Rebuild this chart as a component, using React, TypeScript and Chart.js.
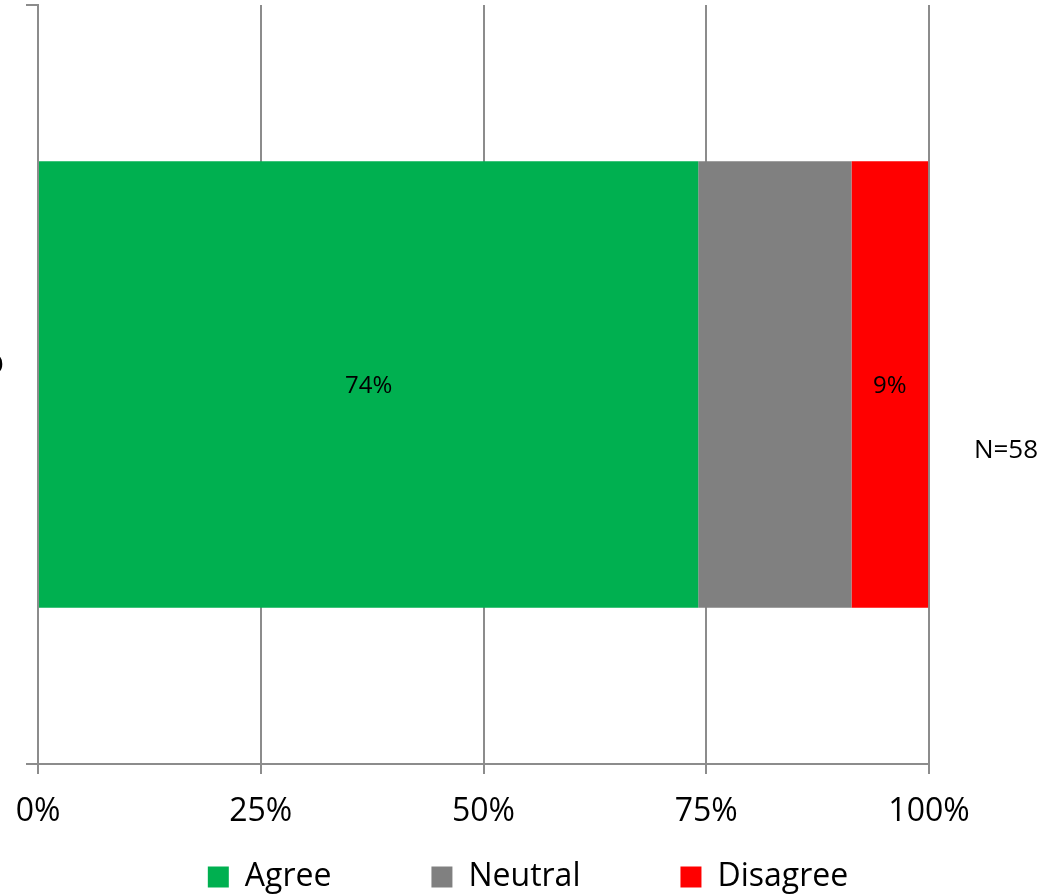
import React, { useEffect, useRef } from "react";
import { Chart, registerables } from "chart.js";

Chart.register(...registerables);

const categories = ["Workshop"];
const seriesNames = ["Agree", "Neutral", "Disagree"];
const agreeValues = [74.1];
const neutralValues = [17.2];
const disagreeValues = [8.6];
const seriesColors = ["#00B050", "#808080", "#FF0000"];
const showValueLabel = [true, false, true];
const xTickStep = 25;
const xMax = 100;
const sampleNote = "N=58";

const FONT = "'Open Sans', 'Noto Sans', sans-serif";
const GRID = "#8c8c8c";

const valueLabelPlugin = {
  id: "valueLabels",
  afterDatasetsDraw(chart: any) {
    const ctx = chart.ctx;
    ctx.save();
    ctx.font = `24px ${FONT}`;
    ctx.fillStyle = "#000";
    ctx.textAlign = "center";
    ctx.textBaseline = "middle";
    chart.data.datasets.forEach((ds: any, i: number) => {
      if (!showValueLabel[i]) return;
      const meta = chart.getDatasetMeta(i);
      meta.data.forEach((el: any, j: number) => {
        const p = el.getCenterPoint();
        ctx.fillText(Math.round(ds.data[j]) + "%", p.x, p.y + 2);
      });
    });
    ctx.restore();
  },
};

const notePlugin = {
  id: "sampleNote",
  afterDraw(chart: any) {
    const { ctx, chartArea } = chart;
    ctx.save();
    ctx.font = `26px ${FONT}`;
    ctx.fillStyle = "#000";
    ctx.textAlign = "center";
    ctx.textBaseline = "middle";
    ctx.fillText(
      sampleNote,
      chartArea.right + 77,
      (chartArea.top + chartArea.bottom) / 2 + 66
    );
    ctx.restore();
  },
};

export default function App() {
  const ref = useRef<HTMLCanvasElement | null>(null);

  useEffect(() => {
    if (!ref.current) return;
    const values = [agreeValues, neutralValues, disagreeValues];
    const chart = new Chart(ref.current, {
      type: "bar",
      data: {
        labels: categories,
        datasets: seriesNames.map((name, i) => ({
          label: name,
          data: values[i],
          backgroundColor: seriesColors[i],
          borderWidth: 0,
          categoryPercentage: 1,
          barPercentage: 0.588,
          yAxisID: "y",
        })),
      },
      options: {
        indexAxis: "y",
        animation: false,
        responsive: true,
        maintainAspectRatio: false,
        layout: { padding: { top: 5, left: 0, right: 0, bottom: -9 } },
        scales: {
          x: {
            type: "linear",
            stacked: true,
            min: 0,
            max: xMax,
            ticks: {
              stepSize: xTickStep,
              callback: (v: any) => v + "%",
              color: "#000",
              font: { family: FONT, size: 32 },
              padding: 19,
              maxRotation: 0,
            },
            grid: {
              color: GRID,
              lineWidth: 2,
              tickLength: 10,
              tickColor: GRID,
            },
            border: { color: GRID, width: 2 },
            afterFit: (s: any) => {
              s.height = 93;
              s.paddingLeft = 0;
              s.paddingRight = 0;
            },
          },
          y: {
            type: "category",
            stacked: true,
            position: "left",
            ticks: {
              color: "#000",
              font: { family: FONT, size: 32 },
              padding: 22,
              labelOffset: -21,
            },
            grid: {
              display: true,
              drawOnChartArea: false,
              drawTicks: true,
              tickLength: 12,
              color: GRID,
              tickColor: GRID,
              lineWidth: 2,
              offset: true,
            },
            border: { color: GRID, width: 2 },
            afterFit: (s: any) => {
              s.width = 38;
              s.paddingTop = 0;
              s.paddingBottom = 0;
            },
          },
          yRight: {
            type: "category",
            labels: categories,
            position: "right",
            grid: { display: false, drawTicks: false },
            ticks: { display: false },
            border: { display: false },
            afterFit: (s: any) => {
              s.width = 127;
              s.paddingTop = 0;
              s.paddingBottom = 0;
            },
          },
        },
        plugins: {
          tooltip: { enabled: false },
          legend: {
            position: "bottom",
            labels: {
              color: "#000",
              font: { family: FONT, size: 32 },
              boxWidth: 21,
              boxHeight: 21,
              padding: 4,
              generateLabels: (c: any) => {
                const items = Chart.defaults.plugins.legend.labels.generateLabels(c);
                return items.map((it: any, i: number) => ({
                  ...it,
                  text: i < items.length - 1 ? it.text + "\u2003\u2003\u2003" : it.text,
                  lineWidth: 0,
                }));
              },
            },
          },
        },
      },
      plugins: [valueLabelPlugin, notePlugin],
    } as any);
    return () => chart.destroy();
  }, []);

  return (
    <div style={{ position: "absolute", left: 0, top: 0, width: 1056, height: 894 }}>
      <canvas ref={ref} />
    </div>
  );
}
